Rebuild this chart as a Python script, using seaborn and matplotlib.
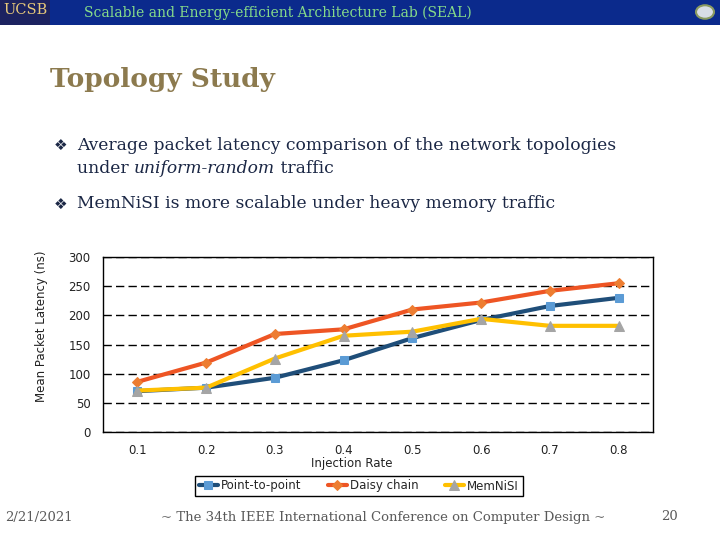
import matplotlib
matplotlib.use("Agg")
import matplotlib.pyplot as plt
from matplotlib.patches import Rectangle, Circle
import pandas as pd
import seaborn as sns

sns.set_theme(style="white")
plt.rcParams["font.family"] = ["DejaVu Sans"]

# data
rates = [0.1, 0.2, 0.3, 0.4, 0.5, 0.6, 0.7, 0.8]
rate_labels = ["0.1", "0.2", "0.3", "0.4", "0.5", "0.6", "0.7", "0.8"]
point_to_point = [70, 76, 93, 123, 161, 192, 216, 230]
daisy_chain = [86, 119, 168, 176, 210, 222, 242, 255]
memnisi = [71, 76, 126, 165, 172, 194, 182, 182]
series_names = ["Point-to-point", "Daisy chain", "MemNiSI"]
y_ticks = [0, 50, 100, 150, 200, 250, 300]

df = pd.DataFrame({
    "rate": rates,
    "Point-to-point": point_to_point,
    "Daisy chain": daisy_chain,
    "MemNiSI": memnisi,
})

line_colors = {"Point-to-point": "#1F4E79", "Daisy chain": "#EE5524", "MemNiSI": "#FFC000"}
marker_colors = {"Point-to-point": "#5B9BD5", "Daisy chain": "#ED7D31", "MemNiSI": "#A5A5A5"}
markers = {"Point-to-point": "s", "Daisy chain": "D", "MemNiSI": "^"}
marker_sizes = {"Point-to-point": 6, "Daisy chain": 5, "MemNiSI": 7}

fig = plt.figure(figsize=(7.2, 5.4), dpi=100)

# slide decoration
fig.patches.append(Rectangle((0, 1 - 25 / 540), 1, 25 / 540, transform=fig.transFigure,
                             facecolor="#0B2A8C", edgecolor="none", zorder=0))
fig.patches.append(Rectangle((0, 1 - 25 / 540), 50 / 720, 25 / 540, transform=fig.transFigure,
                             facecolor="#1C2260", edgecolor="none", zorder=1))
fig.text(25 / 720, 1 - 10 / 540, "UCSB", color="#E8C97A", fontsize=10.5, ha="center", va="center",
         family="DejaVu Serif")
fig.patches.append(Circle((705 / 720, 1 - 12 / 540), 9 / 720, transform=fig.transFigure,
                          facecolor="#D8DDE6", edgecolor="#8A9A60", lw=1.5, zorder=2))
fig.text(278 / 720, 1 - 13 / 540, "Scalable and Energy-efficient Architecture Lab (SEAL)",
         color="#86DB8A", fontsize=10, ha="center", va="center", family="DejaVu Serif")

fig.text(50 / 720, 1 - 80 / 540, "Topology Study", color="#8C7A4E", fontsize=19,
         fontweight="bold", ha="left", va="center", family="DejaVu Serif")

text_color = "#1B2745"
bsize = 12.3
fig.text(54 / 720, 1 - 145 / 540, "\u2756", color=text_color, fontsize=11, ha="left", va="center")
fig.text(77 / 720, 1 - 145 / 540, "Average packet latency comparison of the network topologies",
         color=text_color, fontsize=bsize, ha="left", va="center", family="DejaVu Serif")

# second line: normal / italic / normal pieces chained one after another
fig.canvas.draw()
renderer = fig.canvas.get_renderer()
x_px = 77
for piece, st in [("under ", "normal"), ("uniform-random", "italic"), (" traffic", "normal")]:
    t = fig.text(x_px / 720, 1 - 169 / 540, piece, color=text_color, fontsize=bsize, ha="left",
                 va="center", family="DejaVu Serif", style=st)
    x_px += t.get_window_extent(renderer).width

fig.text(54 / 720, 1 - 204 / 540, "\u2756", color=text_color, fontsize=11, ha="left", va="center")
fig.text(77 / 720, 1 - 204 / 540, "MemNiSI is more scalable under heavy memory traffic",
         color=text_color, fontsize=bsize, ha="left", va="center", family="DejaVu Serif")

foot_color = "#5A5A5A"
fig.text(5 / 720, 1 - 517 / 540, "2/21/2021", color=foot_color, fontsize=9.5, ha="left",
         va="center", family="DejaVu Serif")
fig.text(383 / 720, 1 - 517 / 540, "~ The 34th IEEE International Conference on Computer Design ~",
         color=foot_color, fontsize=9.5, ha="center", va="center", family="DejaVu Serif")
fig.text(670 / 720, 1 - 517 / 540, "20", color=foot_color, fontsize=9.5, ha="center",
         va="center", family="DejaVu Serif")

# chart
ax = fig.add_axes([103 / 720, 1 - 432 / 540, 550 / 720, 175 / 540])
for name in series_names:
    sns.lineplot(data=df, x="rate", y=name, ax=ax, color=line_colors[name], lw=3,
                 marker=markers[name], markersize=marker_sizes[name],
                 markerfacecolor=marker_colors[name], markeredgecolor=marker_colors[name],
                 label=name)

ax.set_xlim(0.05, 0.85)
ax.set_ylim(0, 300)
ax.set_xticks(rates)
ax.set_xticklabels(rate_labels)
ax.set_yticks(y_ticks)
ax.tick_params(axis="both", length=0, labelsize=8.5, colors="#222222")
ax.tick_params(axis="x", pad=9)
ax.tick_params(axis="y", pad=9)
ax.yaxis.grid(True, color="black", linestyle=(0, (6, 3)), lw=1)
ax.set_axisbelow(True)
for sp in ax.spines.values():
    sp.set_visible(True)
    sp.set_color("black")
    sp.set_linewidth(1)

ax.set_xlabel("Injection Rate", fontsize=8.5, color="#222222")
ax.xaxis.set_label_coords((352 - 103) / 550, -(457 - 432) / 175)
ax.set_ylabel("Mean Packet Latency (ns)", fontsize=8.5, color="#222222")
ax.yaxis.set_label_coords(-(103 - 48) / 550, (432 - 326) / 175)

ax.legend(loc="center", bbox_to_anchor=(359 / 720, 1 - 486 / 540),
          bbox_transform=fig.transFigure, ncol=3, fontsize=8.5, frameon=True,
          fancybox=False, edgecolor="black", framealpha=1, handlelength=1.6,
          handletextpad=0.3, columnspacing=2.2, borderpad=0.3)

fig.savefig("out.png", dpi=100)
